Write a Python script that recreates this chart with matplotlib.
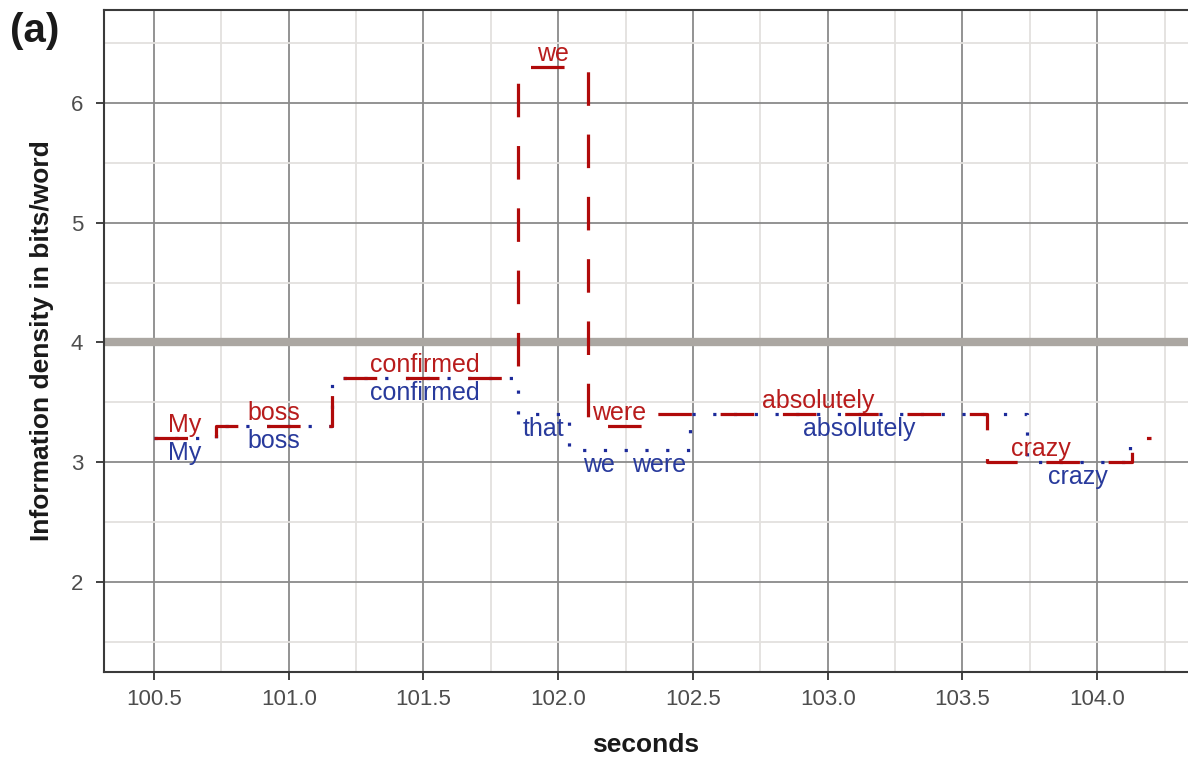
import matplotlib
matplotlib.use("Agg")
import matplotlib.pyplot as plt
from matplotlib.ticker import MultipleLocator, FormatStrFormatter

plt.rcParams['font.family'] = ['Liberation Sans', 'DejaVu Sans']

# ---- data -------------------------------------------------------------
red_edges = [100.50, 100.73, 101.16, 101.85, 102.11, 102.34, 103.59, 104.13, 104.20]
red_vals = [3.2, 3.3, 3.7, 6.3, 3.3, 3.4, 3.0, 3.2]
red_words = ["My", "boss", "confirmed", "we", "were", "absolutely", "crazy"]
red_label_x = [100.615, 100.945, 101.505, 101.98, 102.225, 102.965, 103.79]

blue_edges = [100.50, 100.73, 101.16, 101.85, 102.04, 102.26, 102.49, 103.74, 104.12, 104.13]
blue_vals = [3.2, 3.3, 3.7, 3.4, 3.1, 3.1, 3.4, 3.0, 3.2]
blue_words = ["My", "boss", "confirmed", "that", "we", "were", "absolutely", "crazy"]
blue_label_x = [100.615, 100.945, 101.505, 101.945, 102.15, 102.375, 103.115, 103.93]

threshold = 4.0
x_ticks = [100.5, 101.0, 101.5, 102.0, 102.5, 103.0, 103.5, 104.0]
y_ticks = [2, 3, 4, 5, 6]

RED = "#b00a0a"
BLUE = "#1c2a9a"
RED_TXT = "#b81c1c"
BLUE_TXT = "#283a9c"

fig = plt.figure(figsize=(11.88, 7.58), dpi=100)
ax = fig.add_axes([104 / 1188, 1 - 672 / 758, 1 - 104 / 1188, (672 - 10) / 758])

ax.set_xlim(100.3145, 104.337)
ax.set_ylim(1.248, 6.777)

ax.xaxis.set_minor_locator(MultipleLocator(0.25))
ax.yaxis.set_minor_locator(MultipleLocator(0.5))
ax.set_xticks(x_ticks)
ax.set_yticks(y_ticks)
ax.xaxis.set_major_formatter(FormatStrFormatter('%.1f'))
ax.yaxis.set_major_formatter(FormatStrFormatter('%d'))

ax.grid(which='minor', color='#e3e1de', lw=1.3, zorder=0)
ax.grid(which='major', color='#8a8a8a', lw=1.3, zorder=0)
ax.set_axisbelow(True)
ax.tick_params(which='minor', length=0)
ax.tick_params(which='major', length=6, width=1.3, color='#333333',
               labelsize=16, labelcolor='#4d4d4d')
ax.tick_params(axis='x', pad=6)
ax.tick_params(axis='y', pad=9)

for s in ['left', 'bottom', 'top']:
    ax.spines[s].set_color('#3a3a3a')
    ax.spines[s].set_linewidth(1.5)
ax.spines['right'].set_visible(False)

# threshold line
ax.axhline(threshold, color='#aba7a2', lw=6, zorder=1)

# step lines
ax.plot(blue_edges, blue_vals + [blue_vals[-1]], drawstyle='steps-post',
        color=BLUE, lw=2.3, linestyle=(0, (1.0, 5.5)), zorder=3)
ax.plot(red_edges, red_vals + [red_vals[-1]], drawstyle='steps-post',
        color=RED, lw=2.3, linestyle=(0, (10.5, 9.0)), zorder=4)

# word labels
for xc, v, w in zip(red_label_x, red_vals, red_words):
    ax.text(xc, v + 0.11, w, color=RED_TXT, fontsize=18,
            ha='center', va='center', zorder=5)
for xc, v, w in zip(blue_label_x, blue_vals, blue_words):
    ax.text(xc, v - 0.12, w, color=BLUE_TXT, fontsize=18,
            ha='center', va='center', zorder=5)

ax.set_xlabel("seconds", fontsize=19, fontweight='bold', color='#1a1a1a', labelpad=17)
ax.set_ylabel("Information density in bits/word", fontsize=19, fontweight='bold',
              color='#1a1a1a', labelpad=12)

fig.text(10 / 1188, 1 - 31 / 758, "(a)", fontsize=29, fontweight='bold',
         ha='left', va='center', color='#1a1a1a')

fig.savefig("out.png", dpi=100)
